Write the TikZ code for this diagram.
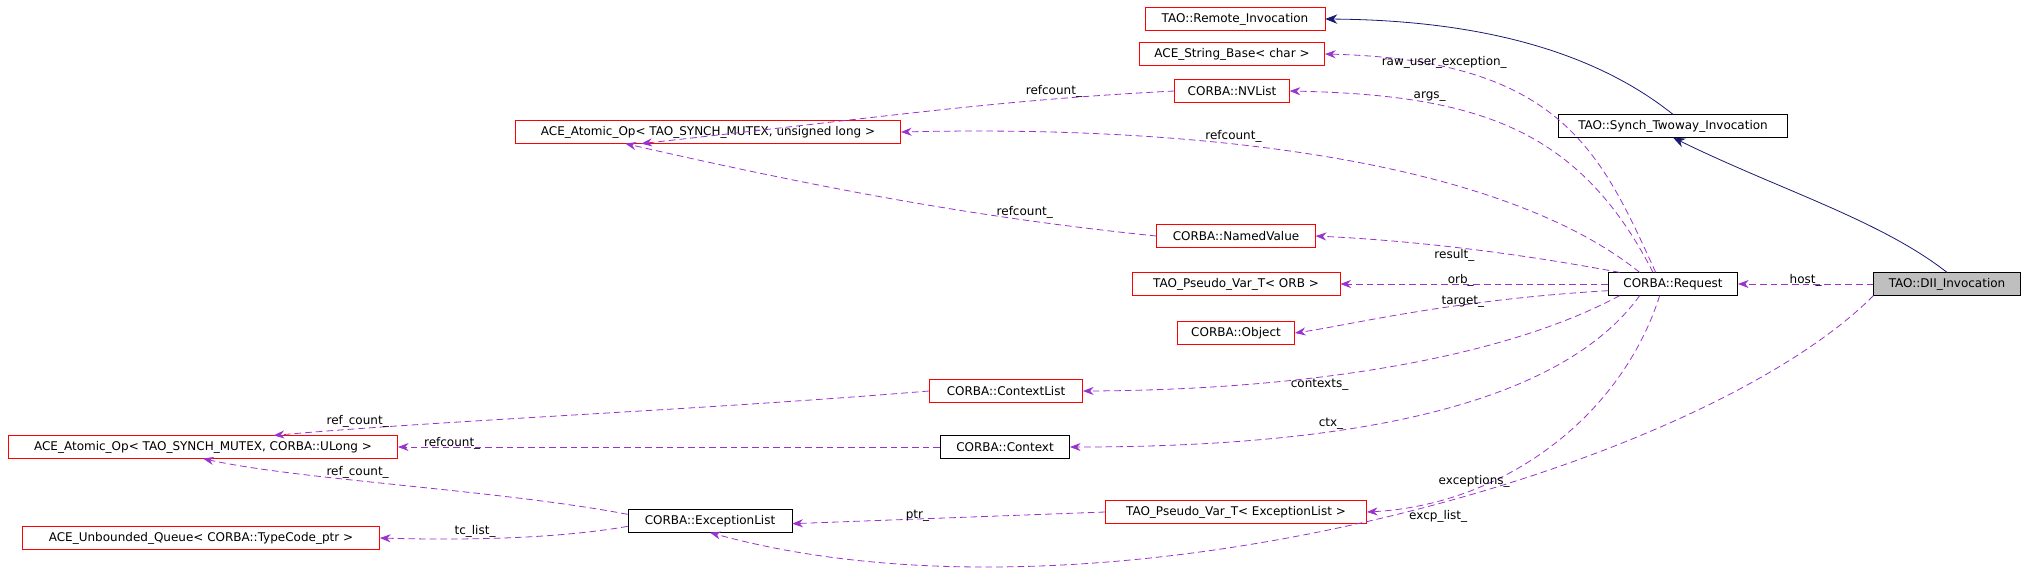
\documentclass[tikz,border=0pt]{standalone}
\usepackage{fontspec}
\setmainfont{DejaVu Sans}
\usetikzlibrary{arrows.meta}
\definecolor{edgep}{HTML}{9A32CD}
\definecolor{nav}{HTML}{191970}
\begin{document}
\begin{tikzpicture}[x=0.75pt,y=-0.75pt,
  every node/.style={font=\fontsize{9}{10}\selectfont},
  red/.style={draw=red,fill=white,inner sep=0pt,minimum height=17pt},
  blk/.style={draw=black,fill=white,inner sep=0pt,minimum height=17pt},
  use/.style={draw=edgep,line width=0.6pt,dash pattern=on 5pt off 3pt,-{Stealth[length=8pt,width=6pt]}},
  inh/.style={draw=nav,line width=0.6pt,-{Stealth[length=9pt,width=7pt,fill=nav]}},
  lab/.style={inner sep=1pt}]
\useasboundingbox (0,0) rectangle (2029,586);
\node[red,minimum width=135pt] (remote) at (1235,19) {TAO::Remote\_Invocation};
\node[red,minimum width=139pt] (strb) at (1232,54) {ACE\_String\_Base< char >};
\node[red,minimum width=86pt] (nvl) at (1232,91) {CORBA::NVList};
\node[red,minimum width=289pt] (aul) at (708,132) {ACE\_Atomic\_Op< TAO\_SYNCH\_MUTEX, unsigned long >};
\node[red,minimum width=119pt] (nv) at (1236,236) {CORBA::NamedValue};
\node[red,minimum width=156pt] (porb) at (1236,284) {TAO\_Pseudo\_Var\_T< ORB >};
\node[red,minimum width=88pt] (obj) at (1236,333) {CORBA::Object};
\node[red,minimum width=115pt] (cl) at (1006,391) {CORBA::ContextList};
\node[blk,minimum width=97pt] (ctx) at (1005,447) {CORBA::Context};
\node[red,minimum width=196pt] (pexc) at (1236,512) {TAO\_Pseudo\_Var\_T< ExceptionList >};
\node[red,minimum width=292pt] (aulong) at (203,447) {ACE\_Atomic\_Op< TAO\_SYNCH\_MUTEX, CORBA::ULong >};
\node[red,minimum width=268pt] (q) at (201,538) {ACE\_Unbounded\_Queue< CORBA::TypeCode\_ptr >};
\node[blk,minimum width=123pt] (el) at (710,521) {CORBA::ExceptionList};
\node[blk,minimum width=97pt] (req) at (1673,284) {CORBA::Request};
\node[blk,minimum width=172pt] (syn) at (1673,126) {TAO::Synch\_Twoway\_Invocation};
\node[blk,fill=black!25,minimum width=110pt] (dii) at (1947,284) {TAO::DII\_Invocation};

\draw[inh] (syn.north) .. controls (1580,40) and (1450,20) .. (remote.east);
\draw[inh] (dii.north) .. controls (1880,220) and (1780,190) .. (syn.south);
\draw[use] (dii.west) -- node[lab,above,yshift=-3pt]{host\_} (req.east);
\draw[use] (dii.south west) .. controls (1700,470) and (1100,640) .. node[lab,pos=0.45,below,yshift=-4pt]{excp\_list\_} (el.south);
\draw[use] ([xshift=-13pt]req.north) .. controls (1600,150) and (1560,60) .. node[lab,pos=0.8,above,yshift=-2pt]{raw\_user\_exception\_} (strb.east);
\draw[use] ([xshift=-15pt]req.north) .. controls (1580,130) and (1480,95) .. node[lab,pos=0.72,above]{args\_} (nvl.east);
\draw[use] ([xshift=-25pt]req.north) .. controls (1500,160) and (1200,125) .. node[lab,pos=0.62,above]{refcount\_} (aul.east);
\draw[use] (nvl.west) .. controls (1000,100) and (900,115) .. node[lab,pos=0.25,above]{refcount\_} ([xshift=-50pt]aul.south);
\draw[use] (nv.west) .. controls (1000,220) and (850,195) .. node[lab,pos=0.28,above]{refcount\_} ([xshift=-62pt]aul.south);
\draw[use] ([xshift=-40pt]req.north) .. controls (1500,250) and (1400,240) .. node[lab,pos=0.5,below]{result\_} (nv.east);
\draw[use] (req.west) -- node[lab,above,pos=0.55,yshift=-3pt]{orb\_} (porb.east);
\draw[use] ([yshift=-5pt]req.west) .. controls (1450,300) and (1350,325) .. node[lab,pos=0.35,above,yshift=-3pt]{target\_} (obj.east);
\draw[use] ([xshift=-40pt]req.south) .. controls (1500,360) and (1300,390) .. node[lab,pos=0.62,below]{contexts\_} (cl.east);
\draw[use] ([xshift=-25pt]req.south) .. controls (1550,420) and (1300,447) .. node[lab,pos=0.62,above]{ctx\_} (ctx.east);
\draw[use] ([xshift=-10pt]req.south) .. controls (1620,420) and (1500,505) .. node[lab,pos=0.72,above]{exceptions\_} (pexc.east);
\draw[use] (cl.west) .. controls (700,410) and (450,420) .. node[lab,pos=0.85,above]{ref\_count\_} ([xshift=53pt]aulong.north);
\draw[use] (ctx.west) -- node[lab,pos=0.9,above,yshift=-3pt]{refcount\_} (aulong.east);
\draw[use] ([yshift=5pt]el.west) .. controls (500,490) and (300,480) .. node[lab,pos=0.6,above]{ref\_count\_} (aulong.south);
\draw[use] ([yshift=-4pt]el.west) .. controls (550,540) and (450,540) .. node[lab,pos=0.6,above]{tc\_list\_} (q.east);
\draw[use] (pexc.west) -- node[lab,pos=0.6,above,yshift=-3pt]{ptr\_} ([yshift=-2pt]el.east);
\end{tikzpicture}
\end{document}
